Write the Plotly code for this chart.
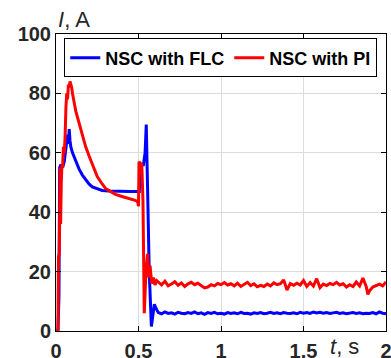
import plotly.graph_objects as go

# NSC with FLC (blue)
t_flc = [0, 0.012, 0.018, 0.022, 0.03, 0.04, 0.05, 0.058, 0.065, 0.07, 0.075, 0.08, 0.085, 0.09,
         0.1, 0.12, 0.14, 0.16, 0.18, 0.2, 0.22, 0.25, 0.28, 0.32, 0.36, 0.4, 0.45, 0.5,
         0.505, 0.51, 0.53, 0.54, 0.547, 0.555, 0.565, 0.578, 0.587, 0.596, 0.61,
         0.62, 0.64, 0.66, 0.68, 0.70, 0.72, 0.74, 0.76, 0.78, 0.80, 0.82, 0.84, 0.86, 0.88,
         0.90, 0.92, 0.94, 0.96, 0.98, 1.00, 1.02, 1.04, 1.06, 1.08, 1.10, 1.12, 1.14, 1.16,
         1.18, 1.20, 1.22, 1.24, 1.26, 1.28, 1.30, 1.32, 1.34, 1.36, 1.38, 1.40, 1.42, 1.44,
         1.46, 1.48, 1.50, 1.52, 1.54, 1.56, 1.58, 1.60, 1.62, 1.64, 1.66, 1.68, 1.70, 1.72,
         1.74, 1.76, 1.78, 1.80, 1.82, 1.84, 1.86, 1.88, 1.90, 1.92, 1.94, 1.96, 1.98, 2.00]
i_flc = [0, 0, 12, 55, 56, 55, 57, 61, 63, 66, 63, 68, 64, 62,
         60, 57, 54.5, 52.5, 51, 49.5, 48.5, 47.8, 47.3, 47.1, 47, 47, 47, 47,
         47, 56, 56, 60, 69.5, 48, 20, 1.5, 6, 9, 7.2,
         6.2, 5.8, 6.4, 5.9, 6.1, 5.7, 6.3, 6.0, 5.8, 6.2, 5.9, 6.4, 5.8, 6.1,
         5.6, 6.2, 5.9, 6.3, 5.8, 6.0, 5.7, 6.2, 5.9, 6.1, 5.8, 6.3, 5.9, 6.0,
         5.7, 6.1, 5.9, 6.2, 5.8, 6.0, 6.3, 5.9, 6.1, 5.8, 6.2, 6.0, 5.9, 6.1,
         5.8, 6.3, 6.0, 6.2, 5.9, 6.4, 6.1, 6.3, 6.0, 6.2, 5.9, 6.1, 6.3, 5.9,
         6.1, 5.8, 6.0, 6.2, 5.9, 6.1, 5.8, 6.0, 5.9, 6.2, 5.8, 6.4, 6.0, 5.8]

# NSC with PI (red)
t_pi = [0, 0.012, 0.015, 0.02, 0.025, 0.028, 0.032, 0.036, 0.04, 0.045, 0.05, 0.055, 0.06,
        0.065, 0.07, 0.075, 0.08, 0.085, 0.09, 0.095, 0.1, 0.11, 0.12, 0.14, 0.16, 0.18,
        0.2, 0.22, 0.25, 0.28, 0.3, 0.33, 0.36, 0.4, 0.44, 0.48, 0.495, 0.5, 0.503, 0.515,
        0.52, 0.527, 0.535, 0.545, 0.555, 0.562, 0.57, 0.58, 0.59, 0.60, 0.61,
        0.62, 0.64, 0.66, 0.68, 0.70, 0.72, 0.74, 0.76, 0.78, 0.80, 0.82, 0.84, 0.86, 0.88,
        0.90, 0.92, 0.94, 0.96, 0.98, 1.00, 1.02, 1.04, 1.06, 1.08, 1.10, 1.12, 1.14, 1.16,
        1.18, 1.20, 1.22, 1.24, 1.26, 1.28, 1.30, 1.32, 1.34, 1.36, 1.38, 1.40, 1.42, 1.44,
        1.46, 1.48, 1.50, 1.52, 1.54, 1.56, 1.58, 1.60, 1.62, 1.64, 1.66, 1.68, 1.70, 1.72,
        1.74, 1.76, 1.78, 1.80, 1.82, 1.84, 1.86, 1.88, 1.89, 1.90, 1.92, 1.94, 1.96, 1.98, 2.00]
i_pi = [0, 0, 25, 26, 55, 36, 50, 56, 55, 62, 60, 65, 75,
        80, 78, 83, 82, 84, 83, 82, 80, 77, 74, 70, 66, 62,
        59, 56, 52, 49.5, 48, 47, 46, 45.3, 44.7, 44, 43.5, 42, 57, 56,
        56, 44, 6, 20, 26, 18, 22, 16, 18, 15.5, 17,
        16.5, 15.5, 16.8, 15.2, 15.8, 16.6, 15.4, 16.2, 15.0, 15.9, 16.4, 15.6, 16.1, 15.3,
        14.5, 14.8, 15.6, 15.2, 16.0, 15.6, 16.3, 15.5, 15.9, 15.2, 16.1, 15.0, 15.7, 16.4,
        15.3, 15.9, 14.9, 15.4, 15.0, 15.8, 15.2, 16.2, 15.6, 15.9, 17.2, 13.8, 16.0, 15.4,
        16.1, 15.5, 17.0, 15.0, 16.3, 15.1, 17.6, 14.6, 15.8, 15.3, 16.0, 15.6, 16.4, 15.5,
        15.9, 14.8, 15.6, 15.0, 16.5, 15.2, 17.8, 15.0, 12.3, 13.5, 14.8, 15.4, 15.8, 15.2, 16.5]

x_ticks = [0, 0.5, 1, 1.5, 2]
x_ticklabels = ["0", "0.5", "1", "1.5", "2"]
y_ticks = [0, 20, 40, 60, 80, 100]

FONT = "Liberation Sans, Arial, sans-serif"

fig = go.Figure()
fig.add_trace(go.Scatter(x=t_flc, y=i_flc, mode="lines", name="NSC with FLC",
                         line=dict(color="#0000ff", width=3)))
fig.add_trace(go.Scatter(x=t_pi, y=i_pi, mode="lines", name="NSC with PI",
                         line=dict(color="#ff0000", width=3)))

axis_common = dict(showline=True, linecolor="black", linewidth=1, mirror="ticks",
                   ticks="inside", ticklen=5, tickcolor="black",
                   showgrid=True, gridcolor="#dcdcdc", gridwidth=1, zeroline=False,
                   automargin=False,
                   tickfont=dict(family=FONT, size=20, color="#262626", weight="bold"))

fig.update_xaxes(range=[0, 2], tickvals=x_ticks, ticktext=x_ticklabels,
                 ticklabelstandoff=2, ticklabeloverflow="allow", **axis_common)
fig.update_yaxes(range=[0, 100], tickvals=y_ticks, **axis_common)

fig.update_layout(
    width=391, height=358,
    margin=dict(l=56, r=5, t=34, b=27),
    paper_bgcolor="white", plot_bgcolor="white",
    showlegend=True,
    legend=dict(orientation="h", x=0.025, y=0.985, xanchor="left", yanchor="top",
                bgcolor="white", bordercolor="black", borderwidth=1,
                font=dict(family=FONT, size=18, color="black", weight="bold"),
                itemwidth=30, tracegroupgap=0),
    annotations=[
        dict(text="<i>I</i>, A", x=0, xref="paper", y=1, yref="paper",
             xanchor="left", yanchor="bottom", showarrow=False, xshift=0, yshift=0,
             font=dict(family=FONT, size=22, color="#262626")),
        dict(text="<i>t</i>, s", x=1.75, xref="x", y=0, yref="paper",
             xanchor="center", yanchor="top", showarrow=False, yshift=-1,
             font=dict(family=FONT, size=22, color="#262626")),
    ],
)

fig.write_html("out.html")
